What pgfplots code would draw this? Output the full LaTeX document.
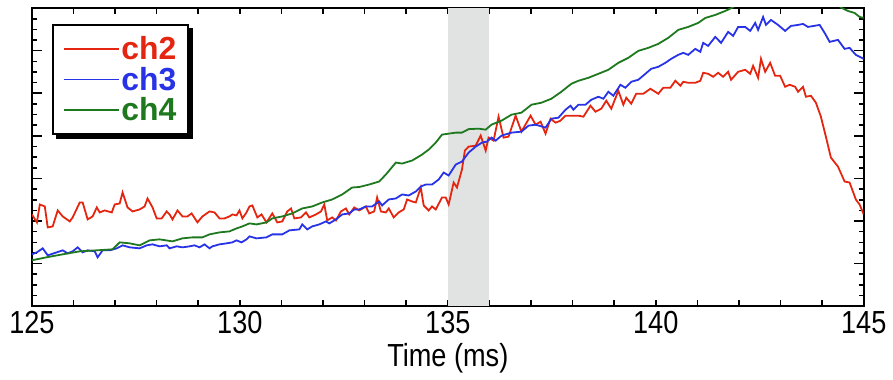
\documentclass[border=0pt]{standalone}
\usepackage{pgfplots}
\pgfplotsset{compat=1.18}
\usepackage{fontspec}
\setmainfont{Liberation Sans}
\newfontfamily\narrowfont{Liberation Sans}[FakeStretch=0.85]
\usetikzlibrary{backgrounds}
\definecolor{cRed}{RGB}{228,38,16}
\definecolor{cBlue}{RGB}{40,50,230}
\definecolor{cGreen}{RGB}{30,120,30}
\definecolor{band}{RGB}{225,227,227}
\begin{document}
\begin{tikzpicture}
\begin{axis}[
  scale only axis,
  width=417pt, height=149.5pt,
  xmin=125, xmax=145, ymin=0, ymax=299,
  xtick={125,130,135,140,145},
  minor x tick num=4,
  ytick={0,42.7,85.4,128.1,170.8,213.5,256.2,298.9},
  minor y tick num=3,
  yticklabels={},
  tick align=inside,
  major tick length=5pt, minor tick length=2.5pt,
  x tick style={/pgfplots/major tick length=3pt, /pgfplots/minor tick length=3pt},
  tick style={black, line width=0.8pt},
  axis line style={line width=1pt},
  /pgf/number format/assume math mode=true,
  ticklabel style={font=\narrowfont\fontsize{16}{16}\selectfont},
  xticklabel style={yshift=1pt},
  xlabel={Time (ms)},
  xlabel style={font=\narrowfont\fontsize{16}{16}\selectfont, yshift=2pt},
  legend cell align=left,
  legend style={name=leg, at={(0,1)}, anchor=north west, xshift=10pt, yshift=-8pt,
    draw=black, line width=1pt, fill=white,
    inner xsep=5pt, inner ysep=4.5pt,
    /tikz/every even column/.append style={column sep=2.5pt},
    nodes={inner sep=1pt, text height=12pt, text depth=1.25pt,
      font=\bfseries\fontsize{16}{16}\selectfont}},
  legend image code/.code={\draw[#1, line width=0.9pt] (0pt,0pt) -- (27.5pt,0pt);},
  every axis plot/.append style={line width=0.9pt},
]
\fill[band] (axis cs:135,0) rectangle (axis cs:136,299);

\addplot[cRed, mark=none] coordinates {
(125.00,92) (125.12,84) (125.19,102) (125.31,100) (125.38,79) (125.50,80) (125.62,96) (125.74,90)
(125.91,85) (125.98,89) (126.15,104) (126.22,104) (126.34,87) (126.46,90) (126.56,99) (126.63,94)
(126.75,96) (126.92,94) (126.99,102) (127.11,103) (127.18,114) (127.30,99) (127.42,95) (127.59,97)
(127.71,100) (127.78,108) (127.90,99) (128.00,88) (128.12,88) (128.24,95) (128.31,92) (128.38,87)
(128.50,96) (128.62,90) (128.74,90) (128.84,93) (128.98,84) (129.10,90) (129.27,95) (129.39,94)
(129.51,88) (129.63,88) (129.75,90) (129.82,92) (129.92,91) (129.99,96) (130.06,88) (130.16,94)
(130.23,100) (130.30,101) (130.42,89) (130.52,92) (130.64,84) (130.78,93) (130.90,84) (131.02,85)
(131.14,95) (131.23,98) (131.31,88) (131.47,89) (131.59,94) (131.67,89) (131.83,92) (131.95,95)
(132.03,102) (132.10,86) (132.22,89) (132.31,86) (132.43,95) (132.55,98) (132.63,92) (132.75,99)
(132.87,96) (133.03,100) (133.11,93) (133.23,95) (133.30,109) (133.39,95) (133.51,94) (133.58,98)
(133.70,89) (133.82,94) (133.94,97) (134.02,107) (134.14,105) (134.23,104) (134.35,119) (134.42,101)
(134.54,96) (134.62,100) (134.71,97) (134.86,109) (134.95,109) (135.02,102) (135.14,124) (135.22,119)
(135.34,137) (135.41,156) (135.50,160) (135.67,161) (135.79,171) (135.91,156) (135.98,169) (136.10,166)
(136.22,190) (136.34,169) (136.46,170) (136.63,191) (136.77,175) (136.99,191) (137.11,182) (137.23,185)
(137.35,173) (137.47,188) (137.59,184) (137.71,186) (137.83,191) (137.97,191) (138.14,191) (138.26,190)
(138.43,201) (138.55,195) (138.69,198) (138.81,206) (138.93,198) (139.10,216) (139.22,202) (139.29,209)
(139.41,203) (139.53,213) (139.70,213) (139.87,218) (140.06,213) (140.18,219) (140.35,219) (140.47,226)
(140.59,221) (140.66,225) (140.78,224) (140.95,224) (141.07,226) (141.14,234) (141.26,233) (141.38,230)
(141.50,234) (141.62,230) (141.74,235) (141.81,227) (141.98,235) (142.15,237) (142.27,233) (142.34,241)
(142.46,229) (142.53,248) (142.63,235) (142.75,244) (142.87,231) (142.99,231) (143.11,220) (143.22,222)
(143.35,220) (143.42,215) (143.54,220) (143.61,210) (143.73,211) (143.85,204) (143.97,190) (144.09,170)
(144.21,149) (144.38,140) (144.54,125) (144.66,124) (144.81,107) (144.90,102) (145.00,92)
};
\addlegendentry{\textcolor{cRed}{ch2}}

\addplot[cBlue, mark=none] coordinates {
(125.00,52) (125.12,54) (125.26,58) (125.38,51) (125.60,54) (125.74,56) (125.86,53) (125.98,55)
(126.10,59) (126.22,54) (126.34,56) (126.51,55) (126.58,49) (126.70,56) (126.87,56) (127.04,58)
(127.18,61) (127.35,59) (127.59,58) (127.76,61) (127.90,62) (128.07,60) (128.24,61) (128.31,58)
(128.48,60) (128.62,59) (128.79,60) (128.91,61) (129.03,59) (129.15,62) (129.27,58) (129.34,60)
(129.51,62) (129.68,63) (129.82,64) (129.92,66) (130.04,64) (130.16,67) (130.23,70) (130.40,68)
(130.64,69) (130.78,72) (131.02,72) (131.19,76) (131.43,77) (131.50,82) (131.62,77) (131.74,80)
(131.91,82) (132.07,85) (132.15,83) (132.31,87) (132.46,92) (132.63,93) (132.75,97) (132.87,97)
(133.03,100) (133.18,100) (133.35,105) (133.42,101) (133.58,107) (133.75,108) (133.90,112) (134.06,111)
(134.23,115) (134.35,120) (134.47,122) (134.62,122) (134.78,127) (134.90,134) (135.02,131) (135.19,142)
(135.34,145) (135.50,154) (135.67,160) (135.82,164) (135.94,165) (136.05,169) (136.15,166) (136.29,171)
(136.53,174) (136.77,175) (136.94,181) (137.11,182) (137.35,179) (137.49,188) (137.66,189) (137.83,197)
(137.95,201) (138.02,197) (138.14,202) (138.31,202) (138.45,207) (138.62,210) (138.74,208) (138.86,215)
(138.98,211) (139.15,222) (139.27,219) (139.41,225) (139.58,227) (139.75,233) (139.89,238) (140.06,240)
(140.23,244) (140.37,248) (140.54,252) (140.66,254) (140.78,252) (140.95,258) (141.07,255) (141.14,264)
(141.26,261) (141.43,270) (141.57,264) (141.74,275) (141.86,271) (141.98,280) (142.15,280) (142.27,276)
(142.39,284) (142.46,277) (142.58,290) (142.65,282) (142.77,287) (142.94,282) (143.11,276) (143.25,281)
(143.42,282) (143.54,283) (143.66,280) (143.94,282) (144.06,274) (144.18,265) (144.38,267) (144.54,258)
(144.66,259) (144.81,252) (145.00,248)
};
\addlegendentry{\textcolor{cBlue}{ch3}}

\addplot[cGreen, mark=none] coordinates {
(125.00,46) (125.35,49) (125.74,52) (126.15,55) (126.56,56) (126.94,57) (127.11,64) (127.35,63)
(127.59,61) (127.83,66) (128.07,67) (128.38,65) (128.62,68) (128.86,69) (129.10,69) (129.27,72)
(129.51,74) (129.75,75) (129.92,78) (130.06,80) (130.23,83) (130.40,82) (130.64,84) (130.78,88)
(131.02,90) (131.26,93) (131.50,98) (131.74,100) (131.98,104) (132.22,107) (132.46,112) (132.70,119)
(132.87,119.5) (133.11,122) (133.35,125) (133.51,132) (133.75,144) (133.90,143) (134.14,146) (134.38,152)
(134.54,157) (134.71,164) (134.86,172) (135.02,173) (135.19,174) (135.34,174) (135.50,177.5) (135.74,178)
(135.91,177) (136.05,182) (136.29,186) (136.53,192) (136.77,194) (137.01,202) (137.25,204) (137.49,208)
(137.73,215) (137.97,223) (138.14,226) (138.38,229) (138.62,233) (138.86,237) (139.10,244) (139.34,249)
(139.58,256) (139.82,259) (140.06,263) (140.30,269) (140.54,277) (140.78,280) (141.02,284) (141.19,289)
(141.43,292) (141.67,296) (141.85,299.5) (142.22,312) (142.82,322) (143.42,320) (143.94,318) (144.18,310)
(144.33,306) (144.45,299.5) (144.62,296) (144.78,294) (144.90,290) (145.00,289)
};
\addlegendentry{\textcolor{cGreen}{ch4}}
\end{axis}
\begin{scope}[on background layer]
\fill[black] ([xshift=2pt,yshift=-2pt]leg.south west) rectangle ([xshift=2pt,yshift=-2pt]leg.north east);
\end{scope}
\path (current axis.south west) ++(-16pt,-31pt) coordinate (bl);
\path (current axis.north east) ++(13.5pt,4pt) coordinate (tr);
\useasboundingbox (bl) rectangle (tr);
\end{tikzpicture}
\end{document}
